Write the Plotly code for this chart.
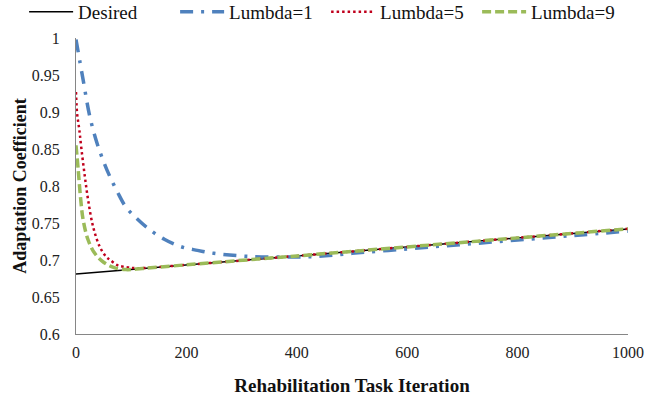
import plotly.graph_objects as go

# Desired trajectory
desired_x = [0, 1000]
desired_y = [0.681, 0.742]

# Lumbda = 1
l1_x = [0, 13, 25, 38, 50, 60, 75, 90, 110, 130, 160, 190, 220, 250, 310, 380, 440, 500, 600, 700, 800, 900, 1000]
l1_y = [0.998, 0.943, 0.894, 0.858, 0.833, 0.815, 0.792, 0.772, 0.756, 0.743, 0.728, 0.718, 0.713, 0.709,
        0.705, 0.704, 0.705, 0.709, 0.715, 0.721, 0.727, 0.733, 0.739]

# Lumbda = 5
l5_x = [0, 2, 6, 10, 16, 22, 31, 43, 55, 62, 75, 86, 110, 200, 400, 600, 800, 1000]
l5_y = [0.927, 0.898, 0.876, 0.849, 0.813, 0.781, 0.745, 0.718, 0.704, 0.700, 0.693, 0.691, 0.689,
        0.6935, 0.7055, 0.7177, 0.7299, 0.7421]

# Lumbda = 9
l9_x = [0, 4, 8, 13, 22, 34, 50, 68, 90, 120, 200, 400, 600, 800, 1000]
l9_y = [0.855, 0.822, 0.786, 0.754, 0.727, 0.709, 0.697, 0.690, 0.687, 0.6885,
        0.6935, 0.7055, 0.7177, 0.7299, 0.7421]

x_ticks = [0, 200, 400, 600, 800, 1000]
y_ticks = [0.6, 0.65, 0.7, 0.75, 0.8, 0.85, 0.9, 0.95, 1]
y_tick_text = ["0.6", "0.65", "0.7", "0.75", "0.8", "0.85", "0.9", "0.95", "1"]

FONT = "Liberation Serif, Times New Roman, serif"

fig = go.Figure()
fig.add_trace(go.Scatter(x=desired_x, y=desired_y, mode="lines", name="Desired",
                         line=dict(color="#000000", width=1.5)))
fig.add_trace(go.Scatter(x=l1_x, y=l1_y, mode="lines", name="Lumbda=1", line_shape="spline",
                         line=dict(color="#4F81BD", width=3.5, dash="13px,8px,3px,8px")))
fig.add_trace(go.Scatter(x=l5_x, y=l5_y, mode="lines", name="Lumbda=5", line_shape="spline",
                         line=dict(color="#C0001C", width=2.5, dash="2.5px,3px")))
fig.add_trace(go.Scatter(x=l9_x, y=l9_y, mode="lines", name="Lumbda=9", line_shape="spline",
                         line=dict(color="#9BBB59", width=3.5, dash="9px,4px")))

fig.update_layout(
    width=658, height=403,
    margin=dict(l=76, r=30, t=38, b=69, autoexpand=False),
    paper_bgcolor="white", plot_bgcolor="white",
    font=dict(family=FONT, color="#222222", size=16),
    showlegend=True,
    legend=dict(orientation="h",
                x=-0.094, y=1.088, xanchor="left", yanchor="middle",
                font=dict(family=FONT, size=19, color="#111111"),
                itemwidth=44, entrywidth=92, tracegroupgap=0,
                bgcolor="rgba(0,0,0,0)"),
    xaxis=dict(range=[0, 1000], tickvals=x_ticks, showgrid=False, zeroline=False,
               showline=True, linecolor="#868686", linewidth=1, ticks="",
               ticklabelstandoff=4,
               tickfont=dict(family=FONT, size=16, color="#222222"),
               title=dict(text="<b>Rehabilitation Task Iteration</b>",
                          font=dict(family=FONT, size=19, color="#111111"), standoff=18)),
    yaxis=dict(range=[0.6, 1.0], tickvals=y_ticks, ticktext=y_tick_text, showgrid=False,
               zeroline=False, showline=True, linecolor="#868686", linewidth=1, ticks="",
               ticklabelstandoff=12,
               tickfont=dict(family=FONT, size=16, color="#222222"),
               title=dict(text="<b>Adaptation Coefficient</b>",
                          font=dict(family=FONT, size=18, color="#111111"), standoff=0)),
)

fig.write_html("out.html")
